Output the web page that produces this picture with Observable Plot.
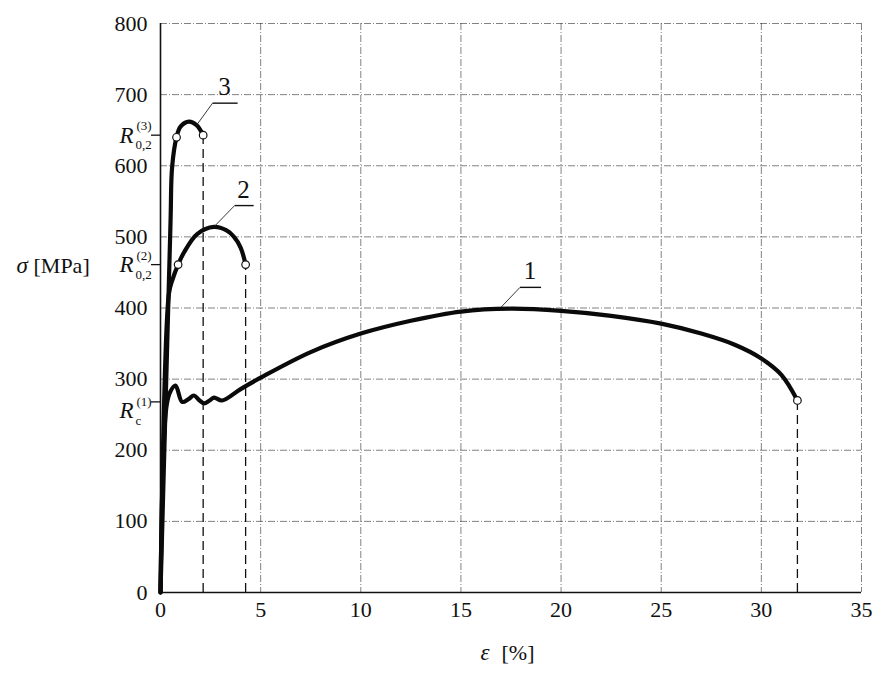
<!DOCTYPE html>
<html>
<head>
<meta charset="utf-8">
<script src="https://cdn.jsdelivr.net/npm/d3@7"></script>
<script src="https://cdn.jsdelivr.net/npm/@observablehq/plot@0.6"></script>
<style>
  html, body { margin: 0; padding: 0; background: #fff; }
  svg text { font-family: "Liberation Serif", "DejaVu Serif", serif !important; }
</style>
</head>
<body>
<div id="chart"></div>
<script>
// Axis ticks
const xTicks = [0, 5, 10, 15, 20, 25, 30, 35];
const yTicks = [0, 100, 200, 300, 400, 500, 600, 700, 800];

// Curve 1 (strain %, stress MPa)
const curve1X = [0, 0.3, 0.5, 0.75, 1.08, 1.4, 1.67, 1.95, 2.17, 2.45, 2.67, 3.08, 4, 5, 7.5, 10, 12.5, 15, 17.5, 20, 22.5, 25, 27, 28.7, 30, 31, 31.8];
const curve1Y = [0, 262, 283, 291, 268, 272, 277, 270, 266, 270, 274, 270, 286, 302, 338, 364, 382, 395, 399, 396, 389, 378, 364, 348, 329, 306, 270];
// Curve 2
const curve2X = [0, 0.42, 0.6, 0.88, 1.17, 1.83, 2.67, 3.3, 3.67, 4.0, 4.25];
const curve2Y = [0, 420, 440, 461, 478, 504, 514, 509, 500, 485, 461];
// Curve 3
const curve3X = [0, 0.5, 0.58, 0.8, 1.0, 1.42, 1.8, 2.13];
const curve3Y = [0, 520, 598, 640, 655, 662, 657, 643];

// Marked points (open circles)
const markX = [0.8, 2.13, 0.88, 4.25, 31.8];
const markY = [640, 643, 461, 461, 270];

// Dashed drop lines at end of curves
const dropX = [2.13, 4.25, 31.8];
const dropY = [643, 461, 270];

// Curve labels with leader lines
const labelText = ["1", "2", "3"];
const leaderStartX = [17.0, 2.7, 1.8];
const leaderStartY = [401, 515, 657];
const leaderKneeX = [17.95, 3.7, 2.6];
const leaderKneeY = [429, 544, 688];
const leaderEndX = [19.0, 4.65, 3.85];
const labelX = [18.45, 4.15, 3.2];

// Special stress markers on the y axis
const rY = [643, 461, 268];
const rSub = ["0,2", "0,2", "c"];
const rSup = ["(3)", "(2)", "(1)"];

const line = (xs, ys) => xs.map((x, i) => ({x, y: ys[i]}));
const c1 = line(curve1X, curve1Y);
const c2 = line(curve2X, curve2Y);
const c3 = line(curve3X, curve3Y);
const marks = line(markX, markY);
const drops = line(dropX, dropY);
const leaders = labelText.map((t, i) => ({
  t, x0: leaderStartX[i], y0: leaderStartY[i], x1: leaderKneeX[i], y1: leaderKneeY[i],
  x2: leaderEndX[i], lx: labelX[i]
}));
const rLabels = rY.map((y, i) => ({y, sub: rSub[i], sup: rSup[i]}));
const rProof = rLabels.filter(d => d.sub !== "c");
const rYield = rLabels.filter(d => d.sub === "c");

const serif = "Liberation Serif";
const gridStyle = {stroke: "#3a3a3a", strokeWidth: 0.8, strokeDasharray: "7,2,1,2", strokeOpacity: 0.8};

const rMarks = (data, shift) => [
  Plot.text(data, {y: "y", text: () => "R", frameAnchor: "left", textAnchor: "start", dx: -41, dy: shift, fontSize: 23, fontStyle: "italic", fill: "#111"}),
  Plot.text(data, {y: "y", text: "sub", frameAnchor: "left", textAnchor: "start", dx: -25, dy: shift + 10, fontSize: 13, fill: "#111"}),
  Plot.text(data, {y: "y", text: "sup", frameAnchor: "left", textAnchor: "start", dx: -24, dy: shift - 9, fontSize: 13, fill: "#111"})
];

const chart = Plot.plot({
  width: 884,
  height: 680,
  marginLeft: 160,
  marginRight: 23,
  marginTop: 23,
  marginBottom: 88,
  x: {domain: [0, 35]},
  y: {domain: [0, 800]},
  style: {fontFamily: serif, fontSize: "22px", background: "#fff", color: "#111"},
  marks: [
    Plot.ruleX(xTicks.filter(d => d > 0), gridStyle),
    Plot.ruleY(yTicks.filter(d => d > 0), gridStyle),
    Plot.ruleX(drops, {x: "x", y1: 0, y2: "y", stroke: "#111", strokeWidth: 1.3, strokeDasharray: "9,5"}),
    Plot.ruleX([0], {stroke: "#111", strokeWidth: 1.6}),
    Plot.ruleY([0], {stroke: "#111", strokeWidth: 1.6}),
    Plot.axisX(xTicks, {tickSize: 0, tickPadding: 9, label: null, fontSize: 22}),
    Plot.axisY(yTicks, {tickSize: 0, tickPadding: 13, label: null, fontSize: 22}),
    Plot.axisY(rY, {tickSize: 9, tickFormat: () => "", label: null, stroke: "#111", strokeWidth: 1.3}),
    Plot.line(c1, {x: "x", y: "y", curve: "catmull-rom", stroke: "#0a0a0a", strokeWidth: 4.2}),
    Plot.line(c2, {x: "x", y: "y", curve: "catmull-rom", stroke: "#0a0a0a", strokeWidth: 4.2}),
    Plot.line(c3, {x: "x", y: "y", curve: "catmull-rom", stroke: "#0a0a0a", strokeWidth: 4.2}),
    Plot.dot(marks, {x: "x", y: "y", r: 3.8, fill: "#fff", stroke: "#111", strokeWidth: 1.2}),
    Plot.link(leaders, {x1: "x0", y1: "y0", x2: "x1", y2: "y1", stroke: "#222", strokeWidth: 0.9}),
    Plot.link(leaders, {x1: "x1", y1: "y1", x2: "x2", y2: "y1", stroke: "#111", strokeWidth: 1.4}),
    Plot.text(leaders, {x: "lx", y: "y1", text: "t", dy: -16, fontSize: 25, fill: "#111"}),
    ...rMarks(rProof, 0),
    ...rMarks(rYield, 9),
    Plot.text(["σ"], {frameAnchor: "left", textAnchor: "start", y: 459, dx: -144, fontSize: 23, fontStyle: "italic", fill: "#111"}),
    Plot.text(["[MPa]"], {frameAnchor: "left", textAnchor: "start", y: 459, dx: -127, fontSize: 22, fill: "#111"}),
    Plot.text(["ε"], {frameAnchor: "bottom", dy: 67, dx: -26, fontSize: 23, fontStyle: "italic", fill: "#111"}),
    Plot.text(["[%]"], {frameAnchor: "bottom", dy: 67, dx: 7, fontSize: 22, fill: "#111"})
  ]
});
document.getElementById("chart").appendChild(chart);
</script>
</body>
</html>
